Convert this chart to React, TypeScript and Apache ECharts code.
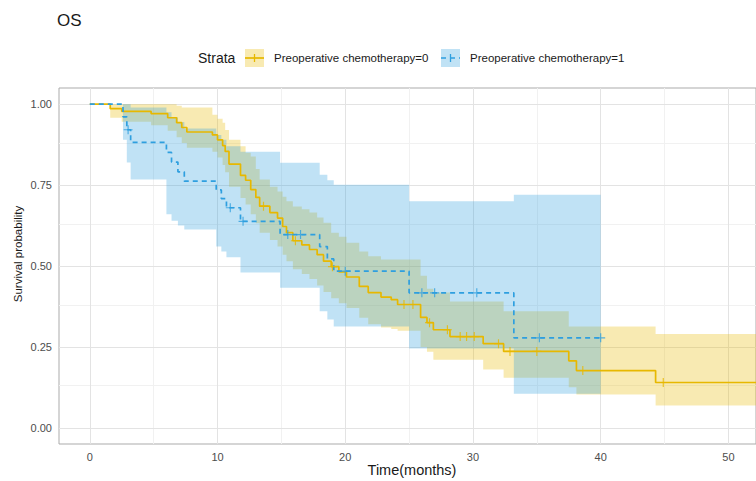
import React, { useEffect, useRef } from "react";
import * as echarts from "echarts";

const chartTitle = "OS";
const legendTitle = "Strata";
const strataLabels = ["Preoperative chemotherapy=0", "Preoperative chemotherapy=1"];
const xAxisTitle = "Time(months)";
const yAxisTitle = "Survival probability";

const xTicks = [0, 10, 20, 30, 40, 50];
const xMinorTicks = [5, 15, 25, 35, 45];
const yTicks = [0, 0.25, 0.5, 0.75, 1];
const yMinorTicks = [0.125, 0.375, 0.625, 0.875];

// Stratum 0 (Preoperative chemotherapy=0)
const s0Time = [0, 1.6, 2.5, 4.8, 6.1, 6.8, 7.2, 7.6, 9.6, 10.0, 10.4, 10.6, 10.9, 11.8, 12.2, 12.6, 13.0, 13.3, 14.1, 14.7, 15.1, 15.4, 15.9, 16.6, 17.2, 17.8, 18.3, 18.9, 19.5, 20.1, 21.1, 21.8, 22.8, 23.6, 24.1, 25.9, 26.4, 26.9, 28.2, 30.8, 32.4, 37.5, 38.1, 44.3];
const s0Surv = [1.0, 0.986, 0.978, 0.971, 0.958, 0.943, 0.928, 0.914, 0.905, 0.89, 0.872, 0.854, 0.815, 0.78, 0.765, 0.736, 0.712, 0.685, 0.665, 0.648, 0.622, 0.603, 0.578, 0.565, 0.551, 0.535, 0.515, 0.498, 0.482, 0.466, 0.437, 0.418, 0.404, 0.396, 0.381, 0.341, 0.325, 0.303, 0.282, 0.26, 0.236, 0.207, 0.177, 0.14];
const s0Upper = [1.0, 1.0, 1.0, 1.0, 1.0, 0.995, 0.99, 0.99, 0.967, 0.955, 0.943, 0.92, 0.89, 0.87, 0.85, 0.838, 0.8, 0.767, 0.745, 0.73, 0.714, 0.7, 0.684, 0.675, 0.665, 0.65, 0.634, 0.603, 0.59, 0.572, 0.545, 0.53, 0.52, 0.52, 0.52, 0.47, 0.43, 0.418, 0.39, 0.39, 0.36, 0.313, 0.313, 0.29];
const s0Lower = [1.0, 0.958, 0.946, 0.935, 0.918, 0.898, 0.88, 0.865, 0.853, 0.835, 0.812, 0.79, 0.745, 0.71, 0.69, 0.66, 0.632, 0.603, 0.58, 0.56, 0.535, 0.515, 0.49, 0.475, 0.46, 0.44, 0.42, 0.4, 0.385, 0.37, 0.34, 0.32, 0.31, 0.305, 0.3, 0.25, 0.235, 0.21, 0.21, 0.18, 0.155, 0.125, 0.103, 0.069];
const s0LastFollowUp = 57;
const s0CensorTime = [13.6, 16.1, 19.0, 24.6, 25.3, 26.6, 28.0, 29.0, 29.5, 30.1, 32.0, 32.9, 35.0, 38.6, 44.9];

// Stratum 1 (Preoperative chemotherapy=1)
const s1Time = [0, 2.6, 2.9, 3.2, 6.0, 6.4, 6.9, 7.4, 9.9, 10.3, 10.7, 11.8, 14.9, 18.0, 18.6, 19.1, 25.0, 33.2];
const s1Surv = [1.0, 0.961, 0.921, 0.882, 0.851, 0.821, 0.791, 0.762, 0.735, 0.708, 0.68, 0.638, 0.597, 0.56, 0.522, 0.484, 0.417, 0.278];
const s1Upper = [1.0, 1.0, 1.0, 0.99, 0.975, 0.96, 0.945, 0.925, 0.905, 0.89, 0.87, 0.853, 0.819, 0.782, 0.765, 0.751, 0.7, 0.72];
const s1Lower = [1.0, 0.89, 0.82, 0.767, 0.66, 0.64, 0.625, 0.613, 0.56, 0.545, 0.527, 0.48, 0.433, 0.36, 0.335, 0.313, 0.245, 0.105];
const s1LastFollowUp = 40;
const s1CensorTime = [3.0, 11.0, 12.0, 15.5, 16.5, 20.0, 26.0, 27.0, 30.3, 35.2, 40.0];

const COLORS = ["#E7B800", "#2E9FDF"];
const BAND = ["rgba(231,184,0,0.3)", "rgba(46,159,223,0.3)"];
const X_MIN = -2.41;
const X_MAX = 52.16;
const Y_MIN = -0.05;
const Y_MAX = 1.05;
const FONT = "'Liberation Sans', Arial, Helvetica, sans-serif";
const PLUS = "path://M-0.13,-1 L0.13,-1 L0.13,-0.13 L1,-0.13 L1,0.13 L0.13,0.13 L0.13,1 L-0.13,1 L-0.13,0.13 L-1,0.13 L-1,-0.13 L-0.13,-0.13 Z";

function survAt(times: number[], surv: number[], t: number) {
  let v = surv[0];
  for (let i = 0; i < times.length; i++) if (times[i] <= t) v = surv[i];
  return v;
}

function stepData(times: number[], surv: number[], last: number) {
  const d = times.map((t, i) => [t, surv[i]]);
  d.push([last, surv[surv.length - 1]]);
  return d;
}

function bandSeries(times: number[], upper: number[], lower: number[], last: number, fill: string) {
  return {
    type: "custom",
    coordinateSystem: "cartesian2d",
    silent: true,
    z: 2,
    data: [[0, 0]],
    renderItem: (_params: any, api: any) => {
      const pts: number[][] = [];
      const n = times.length;
      const endT = (i: number) => Math.min(i + 1 < n ? times[i + 1] : last, X_MAX + 1);
      for (let i = 0; i < n; i++) {
        pts.push(api.coord([times[i], upper[i]]));
        pts.push(api.coord([endT(i), upper[i]]));
      }
      for (let i = n - 1; i >= 0; i--) {
        pts.push(api.coord([endT(i), lower[i]]));
        pts.push(api.coord([times[i], lower[i]]));
      }
      return { type: "polygon", shape: { points: pts }, style: { fill, stroke: "none" } };
    },
  };
}

function lineSeries(name: string, times: number[], surv: number[], last: number, color: string, dashed: boolean) {
  return {
    name,
    type: "line",
    step: "end",
    z: 3,
    symbol: "none",
    silent: true,
    data: stepData(times, surv, last),
    lineStyle: { color, width: 1.7, type: dashed ? [5, 4] : "solid" },
    itemStyle: { color },
  };
}

function censorSeries(name: string, times: number[], surv: number[], censor: number[], color: string) {
  return {
    name: name + " censor",
    type: "scatter",
    z: 4,
    silent: true,
    symbol: PLUS,
    symbolSize: 9,
    itemStyle: { color },
    data: censor.map((t) => [t, survAt(times, surv, t)]),
  };
}

export default function App() {
  const ref = useRef<HTMLDivElement>(null);
  useEffect(() => {
    if (!ref.current) return;
    const chart = echarts.init(ref.current, undefined, { renderer: "svg" });
    const majorStyle = { color: "#E3E3E3", width: 1, type: "solid" };
    const minorStyle = { color: "#F1F1F1", width: 1, type: "solid" };
    const gridLines = [
      ...xMinorTicks.map((v) => ({ xAxis: v, lineStyle: minorStyle })),
      ...yMinorTicks.map((v) => ({ yAxis: v, lineStyle: minorStyle })),
      ...xTicks.map((v) => ({ xAxis: v, lineStyle: majorStyle })),
      ...yTicks.map((v) => ({ yAxis: v, lineStyle: majorStyle })),
    ];
    const legendY = 58;
    chart.setOption({
      animation: false,
      grid: {
        left: 59,
        top: 88,
        right: -5,
        bottom: 37,
        show: true,
        borderColor: "#ABABAB",
        borderWidth: 1,
        backgroundColor: "#FFFFFF",
      },
      xAxis: {
        type: "value",
        min: X_MIN,
        max: X_MAX,
        axisLine: { show: false },
        splitLine: { show: false },
        axisTick: { show: true, length: 4, customValues: xTicks, lineStyle: { color: "#333333" } },
        axisLabel: { customValues: xTicks, margin: 7, color: "#4D4D4D", fontSize: 11, fontFamily: FONT },
      },
      yAxis: {
        type: "value",
        min: Y_MIN,
        max: Y_MAX,
        axisLine: { show: false },
        splitLine: { show: false },
        axisTick: { show: true, length: 4, customValues: yTicks, lineStyle: { color: "#333333" } },
        axisLabel: {
          customValues: yTicks,
          margin: 7,
          color: "#4D4D4D",
          fontSize: 11,
          fontFamily: FONT,
          formatter: (v: number) => v.toFixed(2),
        },
      },
      series: [
        {
          type: "line",
          name: "grid",
          data: [],
          silent: true,
          z: 1,
          markLine: {
            silent: true,
            z: 1,
            symbol: ["none", "none"],
            label: { show: false },
            emphasis: { disabled: true },
            data: gridLines,
          },
        },
        bandSeries(s0Time, s0Upper, s0Lower, s0LastFollowUp, BAND[0]),
        bandSeries(s1Time, s1Upper, s1Lower, s1LastFollowUp, BAND[1]),
        lineSeries(strataLabels[0], s0Time, s0Surv, s0LastFollowUp, COLORS[0], false),
        lineSeries(strataLabels[1], s1Time, s1Surv, s1LastFollowUp, COLORS[1], true),
        censorSeries(strataLabels[0], s0Time, s0Surv, s0CensorTime, COLORS[0]),
        censorSeries(strataLabels[1], s1Time, s1Surv, s1CensorTime, COLORS[1]),
      ],
      graphic: [
        { type: "text", x: 57, y: 20, style: { text: chartTitle, fontSize: 17, fontFamily: FONT, fill: "#1A1A1A", textVerticalAlign: "middle" } },
        { type: "text", x: 198, y: legendY, style: { text: legendTitle, fontSize: 14, fontFamily: FONT, fill: "#1A1A1A", textVerticalAlign: "middle" } },
        { type: "rect", shape: { x: 245, y: legendY - 9, width: 19, height: 18 }, style: { fill: BAND[0] } },
        { type: "line", shape: { x1: 245, y1: legendY, x2: 264, y2: legendY }, style: { stroke: COLORS[0], lineWidth: 1.7 } },
        { type: "line", shape: { x1: 254.5, y1: legendY - 4, x2: 254.5, y2: legendY + 4 }, style: { stroke: COLORS[0], lineWidth: 1.3 } },
        { type: "text", x: 274, y: legendY, style: { text: strataLabels[0], fontSize: 11.5, fontFamily: FONT, fill: "#1A1A1A", textVerticalAlign: "middle" } },
        { type: "rect", shape: { x: 441, y: legendY - 9, width: 19, height: 18 }, style: { fill: BAND[1] } },
        { type: "line", shape: { x1: 441, y1: legendY, x2: 460, y2: legendY }, style: { stroke: COLORS[1], lineWidth: 1.7, lineDash: [5, 4] } },
        { type: "line", shape: { x1: 450.5, y1: legendY - 4, x2: 450.5, y2: legendY + 4 }, style: { stroke: COLORS[1], lineWidth: 1.3 } },
        { type: "text", x: 470, y: legendY, style: { text: strataLabels[1], fontSize: 11.5, fontFamily: FONT, fill: "#1A1A1A", textVerticalAlign: "middle" } },
        { type: "text", x: 412, y: 470, style: { text: xAxisTitle, fontSize: 14.5, fontFamily: FONT, fill: "#1A1A1A", textAlign: "center", textVerticalAlign: "middle" } },
        { type: "text", x: 18, y: 254, rotation: Math.PI / 2, style: { text: yAxisTitle, fontSize: 11.5, fontFamily: FONT, fill: "#1A1A1A", textAlign: "center", textVerticalAlign: "middle" } },
      ],
    });
    return () => chart.dispose();
  }, []);
  return <div ref={ref} style={{ position: "absolute", left: 0, top: 0, width: 756, height: 481 }} />;
}
